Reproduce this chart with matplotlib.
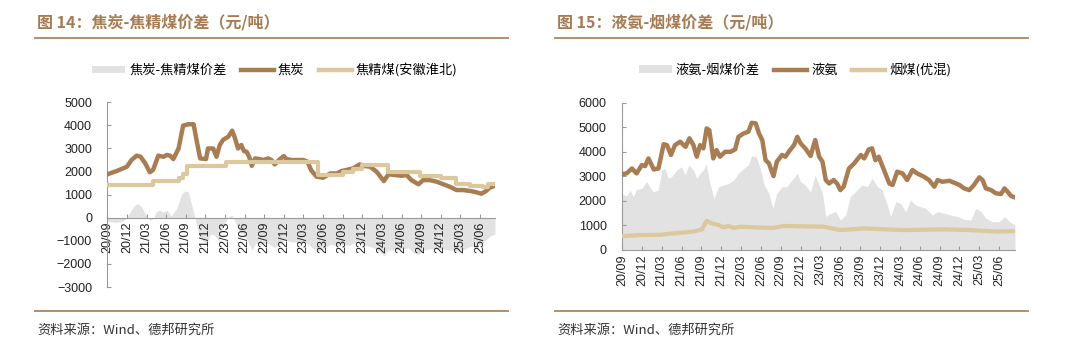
import matplotlib
matplotlib.use("Agg")
import matplotlib.pyplot as plt
from matplotlib.lines import Line2D
from matplotlib.patches import Patch

plt.rcParams['font.family'] = ['Noto Sans CJK SC', 'DejaVu Sans']

# months since 2020-09 for every series
tick_pos = [0, 3, 6, 9, 12, 15, 18, 21, 24, 27, 30, 33, 36, 39, 42, 45, 48, 51, 54, 57]
tick_labels = ['20/09', '20/12', '21/03', '21/06', '21/09', '21/12', '22/03', '22/06',
               '22/09', '22/12', '23/03', '23/06', '23/09', '23/12', '24/03', '24/06',
               '24/09', '24/12', '25/03', '25/06']

# ---- 图14: 焦炭 / 焦精煤 ----
coke_t = [0, 1.4, 3.0, 3.7, 4.5, 5.1, 5.8, 6.5, 7.0, 7.8, 8.6, 9.1, 9.6, 10.1, 10.9,
          11.6, 12.4, 13.2, 13.7, 14.2, 15.1, 15.4, 16.2, 16.7, 17.2, 17.7, 18.5, 19.1,
          19.5, 20.0, 20.5, 20.9, 21.3, 21.7, 22.1, 22.6, 23.3, 23.9, 24.6, 25.1, 25.6,
          26.4, 27.0, 27.4, 28.2, 30.0, 30.6, 31.2, 32.0, 33.0, 34.1, 35.1, 35.8, 36.6,
          37.6, 38.6, 39.4, 40.2, 41.2, 42.3, 43.0, 44.0, 45.0, 45.8, 46.5, 47.6, 48.3,
          49.3, 50.4, 51.4, 52.4, 53.4, 54.4, 55.5, 56.5, 57.2, 57.8, 58.5, 59.3]
coke = [1880, 2020, 2210, 2500, 2690, 2640, 2360, 1970, 2070, 2690, 2640, 2720, 2690,
        2540, 3000, 3990, 4050, 4050, 3290, 2570, 2540, 3000, 3000, 2640, 3150, 3370,
        3510, 3770, 3470, 3000, 3150, 2890, 2860, 2640, 2250, 2570, 2540, 2500, 2570,
        2500, 2310, 2540, 2670, 2540, 2500, 2500, 2430, 2050, 1780, 1730, 1920, 1920,
        2020, 2070, 2140, 2310, 2240, 2210, 1990, 1590, 1880, 1850, 1820, 1850, 1630,
        1450, 1630, 1630, 1560, 1450, 1340, 1200, 1200, 1160, 1100, 1040, 1130, 1300,
        1390]

coal_t = [0, 7.0, 10.9, 11.6, 12.2, 18.2, 32.3, 36.1, 37.6, 39.0, 43.0, 47.8, 51.1,
          53.4, 55.5, 57.5, 58.3, 59.3]
coal = [1400, 1590, 1720, 1880, 2250, 2420, 1850, 1960, 2100, 2280, 1970, 1820, 1700,
        1480, 1390, 1340, 1440, 1440]

spread_t = [0, 1.0, 2.0, 2.8, 3.4, 4.0, 4.6, 5.2, 6.0, 6.5, 7.0, 7.5, 8.0, 8.6, 9.1,
            9.8, 10.6, 11.4, 11.9, 12.4, 12.9, 13.4, 13.9, 14.5, 15.2, 15.8, 16.4, 17.0,
            17.6, 18.2, 18.6, 19.1, 19.6, 20.2, 20.8, 21.5, 22.1, 22.7, 23.5, 24.5, 25.6,
            26.5, 27.2, 28.2, 29.5, 30.6, 31.3, 32.0, 33.0, 34.1, 35.1, 36.0, 37.0, 38.0,
            39.0, 40.2, 41.2, 42.3, 43.0, 44.0, 45.0, 46.0, 46.8, 47.6, 48.3, 49.3, 50.4,
            51.4, 52.4, 53.4, 54.4, 55.5, 56.5, 57.2, 57.8, 58.5, 59.3]
spread = [-150, -200, -180, -60, 200, 480, 620, 480, 100, -120, -50, 250, 330, 260, 320,
          80, 400, 1050, 1160, 1120, 550, 0, -600, -1000, -1100, -700, -750, -1000, -500,
          -100, 50, 100, -200, -600, -700, -1000, -1400, -1100, -1150, -1100, -1300,
          -1100, -950, -1050, -1050, -1100, -1300, -1450, -1350, -1150, -1200, -1150,
          -1200, -1050, -1150, -1250, -1350, -1650, -1400, -1400, -1350, -1300, -1500,
          -1600, -1400, -1350, -1350, -1350, -1400, -1450, -1400, -1250, -1200, -1150,
          -1000, -800, -700]

# ---- 图15: 液氨 / 烟煤 ----
ammonia_t = [0, 0.7, 1.5, 2.2, 3.0, 3.5, 4.0, 4.8, 5.5, 6.3, 6.8, 7.4, 8.0, 8.8, 9.6,
             10.2, 10.8, 11.3, 11.8, 12.3, 12.8, 13.2, 13.8, 14.3, 14.8, 15.6, 16.4, 17.1,
             17.6, 18.4, 19.1, 19.6, 20.2, 20.7, 21.2, 21.7, 22.2, 22.9, 23.4, 24.2, 24.7,
             25.2, 26.0, 26.5, 27.0, 27.7, 28.5, 29.2, 29.8, 30.3, 30.8, 31.3, 32.0, 32.5,
             33.0, 33.5, 34.3, 35.1, 36.1, 36.6, 37.3, 37.8, 38.3, 38.8, 39.6, 40.4, 40.9,
             41.6, 42.4, 43.1, 43.9, 44.6, 45.6, 46.4, 47.2, 47.7, 48.4, 49.5, 50.2, 51.0,
             51.7, 52.5, 53.2, 54.0, 54.5, 55.0, 55.8, 56.5, 57.3, 57.8, 58.3, 58.8, 59.4]
ammonia = [3090, 3120, 3320, 3120, 3460, 3420, 3730, 3280, 3320, 4310, 4270, 3870, 4270,
           4410, 4200, 4550, 4270, 3800, 4270, 4140, 4950, 4880, 3730, 4070, 3800, 4000,
           4000, 4100, 4610, 4750, 4820, 5180, 5160, 4750, 4480, 3660, 3530, 3010, 3600,
           3870, 3800, 4000, 4270, 4610, 4340, 4140, 3830, 4480, 3800, 3600, 2850, 2710,
           2850, 2710, 2440, 2580, 3320, 3530, 3870, 3730, 4100, 4140, 3660, 3800, 3260,
           2710, 2650, 3190, 3120, 2850, 3260, 3120, 2990, 2850, 2580, 2850, 2780, 2820,
           2740, 2650, 2510, 2440, 2650, 2960, 2850, 2510, 2440, 2310, 2280, 2510, 2370,
           2200, 2140]

tcoal_t = [0, 2.7, 5.8, 7.8, 10.8, 12.1, 12.8, 13.5, 14.6, 15.3, 16.1, 16.9, 17.9, 20.4,
           22.9, 24.4, 28.0, 30.5, 33.0, 36.6, 42.6, 48.7, 52.7, 56.8, 59.4]
tcoal = [560, 610, 620, 680, 750, 840, 1190, 1090, 1020, 920, 980, 900, 950, 920, 900,
         980, 960, 950, 810, 880, 810, 840, 810, 750, 770]

gap_t = [0, 0.7, 1.2, 1.7, 2.2, 3.0, 3.7, 4.2, 4.7, 5.5, 6.0, 6.5, 7.0, 7.5, 8.3, 9.0,
         9.5, 10.1, 10.8, 11.3, 11.8, 12.3, 12.7, 13.3, 13.9, 14.6, 15.4, 16.1, 16.9, 17.6,
         18.4, 19.1, 19.6, 20.3, 20.9, 21.5, 22.2, 22.8, 23.4, 24.2, 24.9, 25.7, 26.5,
         27.0, 27.7, 28.5, 29.2, 30.3, 30.8, 31.5, 32.3, 33.0, 33.8, 34.5, 35.5, 36.3,
         37.1, 37.8, 38.6, 39.3, 40.1, 40.6, 41.4, 42.1, 42.9, 43.6, 44.4, 45.1, 45.9,
         46.9, 47.7, 48.7, 49.7, 50.7, 51.7, 52.7, 53.5, 54.3, 55.0, 56.0, 57.0, 57.8,
         58.6, 59.4]
gap = [2280, 2200, 2440, 2170, 2470, 2510, 2780, 2580, 2370, 2440, 3260, 3320, 2920, 2990,
       3260, 3390, 3050, 3460, 3260, 2920, 3120, 3260, 3530, 2710, 2100, 2580, 2650, 2710,
       2850, 3120, 3320, 3460, 3830, 3800, 3320, 2650, 2310, 1700, 2310, 2580, 2580, 2850,
       3120, 2780, 2650, 2370, 3050, 2310, 1360, 1490, 1560, 1220, 1420, 2170, 2440, 2650,
       2580, 2920, 2580, 2440, 1830, 1360, 1970, 1900, 1560, 2040, 1830, 1760, 1700, 1420,
       1560, 1490, 1420, 1360, 1250, 1220, 1700, 1560, 1290, 1150, 1150, 1360, 1150, 1020]

DARK = '#a97d51'
LIGHT = '#dbc89d'
AREA = '#e2e2e2'
RULE = '#b48d66'
TITLE_C = '#a67b52'
SPINE = '#9a9a9a'

fig = plt.figure(figsize=(10.8, 3.44), dpi=100)


def style_axes(ax, ymin, ymax, step, xmax):
    ax.set_xlim(0, xmax)
    ax.set_ylim(ymin, ymax)
    ax.set_yticks(range(ymin, ymax + 1, step))
    ax.set_xticks(tick_pos)
    ax.set_xticklabels(tick_labels, rotation=90)
    for s in ('top', 'right'):
        ax.spines[s].set_visible(False)
    for s in ('left', 'bottom'):
        ax.spines[s].set_color(SPINE)
        ax.spines[s].set_linewidth(0.8)
    ax.tick_params(axis='both', direction='in', length=3, color=SPINE,
                   labelsize=9, labelcolor='#222222')
    ax.tick_params(axis='y', pad=11)
    ax.tick_params(axis='x', pad=3)
    for lab in ax.get_xticklabels() + ax.get_yticklabels():
        lab.set_family('Liberation Sans')
    ax.set_facecolor('none')


def add_frame(x0, x1, title):
    fig.text(x0 + 2 / 1080, 1 - 22 / 344, title, fontsize=11.5, fontweight='bold',
             color=TITLE_C, va='center', ha='left')
    fig.add_artist(Line2D([x0, x1], [1 - 38 / 344] * 2, color=RULE, lw=1.4))
    fig.add_artist(Line2D([x0, x1], [1 - 311 / 344] * 2, color=RULE, lw=1.4))
    fig.text(x0 + 2 / 1080, 1 - 330 / 344, '资料来源：Wind、德邦研究所', fontsize=9.5,
             color='#333333', va='center', ha='left')


def add_legend(ax, labels, cx):
    handles = [Patch(facecolor=AREA, edgecolor='none'),
               Line2D([], [], color=DARK, lw=3.2),
               Line2D([], [], color=LIGHT, lw=3.2)]
    fig.legend(handles, labels, loc='center', bbox_to_anchor=(cx, 1 - 70 / 344), ncol=3,
               frameon=False, fontsize=9.5, handlelength=2.5, handleheight=0.5,
               handletextpad=0.3, columnspacing=1.1)


# left chart, x axis sits on the zero line
ax1 = fig.add_axes([107.3 / 1080, 1 - 287 / 344, (495 - 107.3) / 1080, (287 - 102.3) / 344])
ax1.spines['bottom'].set_position(('data', 0))
ax1.fill_between(spread_t, spread, 0, color=AREA, lw=0, zorder=1)
ax1.plot(coke_t, coke, color=DARK, lw=3.2, solid_joinstyle='round', zorder=3)
ax1.step(coal_t, coal, where='post', color=LIGHT, lw=3.0, zorder=4)
style_axes(ax1, -3000, 5000, 1000, 59.3)
add_frame(35 / 1080, 508 / 1080, '图 14：焦炭-焦精煤价差（元/吨）')
add_legend(ax1, ['焦炭-焦精煤价差', '焦炭', '焦精煤(安徽淮北)'], 275 / 1080)

# right chart
ax2 = fig.add_axes([622 / 1080, 1 - 250 / 344, (1015 - 622) / 1080, (250 - 102.7) / 344])
ax2.fill_between(gap_t, gap, 0, color=AREA, lw=0, zorder=1)
ax2.plot(ammonia_t, ammonia, color=DARK, lw=3.2, solid_joinstyle='round', zorder=3)
ax2.plot(tcoal_t, tcoal, color=LIGHT, lw=3.0, solid_joinstyle='round', zorder=4)
style_axes(ax2, 0, 6000, 1000, 59.4)
add_frame(555 / 1080, 1028 / 1080, '图 15：液氨-烟煤价差（元/吨）')
add_legend(ax2, ['液氨-烟煤价差', '液氨', '烟煤(优混)'], 795 / 1080)

fig.savefig('out.png', dpi=100, facecolor='white')
